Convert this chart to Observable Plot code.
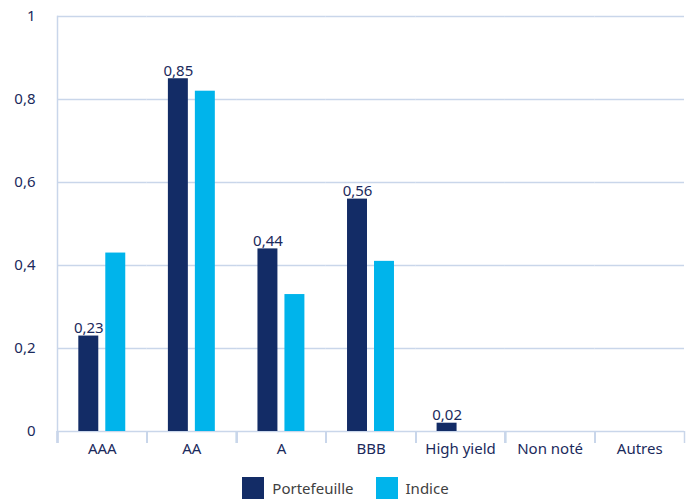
<!DOCTYPE html>
<html>
<head>
<meta charset="utf-8">
<script src="https://cdn.jsdelivr.net/npm/d3@7"></script>
<script src="https://cdn.jsdelivr.net/npm/@observablehq/plot@0.6"></script>
<style>
  body { margin: 0; background: #fff; font-family: "Noto Sans", sans-serif; }
  #chart svg { display: block; }
  .legend { display: flex; justify-content: center; align-items: center; gap: 22px; height: 23px; color: #404040; font-size: 15px; }
  .legend span { display: inline-flex; align-items: center; gap: 8px; }
  .legend i { display: inline-block; width: 22px; height: 22px; }
</style>
</head>
<body>
<div id="chart"></div>
<div class="legend" id="legend"></div>
<script>
// Rating buckets and the two series compared in each
const categories = ["AAA", "AA", "A", "BBB", "High yield", "Non noté", "Autres"];
const series = ["Portefeuille", "Indice"];
const portefeuille = [0.23, 0.85, 0.44, 0.56, 0.02, 0, 0];
const indice = [0.43, 0.82, 0.33, 0.41, 0, 0, 0];
const yTicks = [0, 0.2, 0.4, 0.6, 0.8, 1];
const colors = ["#132c66", "#00b4eb"];

const navy = "#1b2a5c";
const gridColor = "#c9d6ea";
const frFormat = (v) => String(v).replace(".", ",");

const rows = categories.flatMap((c, i) => [
  {category: c, series: series[0], value: portefeuille[i]},
  {category: c, series: series[1], value: indice[i]}
]);
const labelled = rows.filter((d) => d.series === series[0] && d.value > 0);

const width = 691, marginLeft = 57, marginRight = 7;
const halfStep = (width - marginLeft - marginRight) / categories.length / 2;

const chart = Plot.plot({
  width,
  height: 476,
  marginLeft,
  marginRight,
  marginTop: 16,
  marginBottom: 45,
  style: {fontFamily: "'Noto Sans', sans-serif", fontSize: "15px", color: navy, background: "#fff"},
  fx: {domain: categories, padding: 0, round: false, label: null},
  x: {domain: series, paddingInner: 0.26, paddingOuter: 0.79, round: false, axis: null},
  y: {domain: [0, 1], label: null},
  color: {domain: series, range: colors},
  marks: [
    Plot.gridY(yTicks, {stroke: gridColor, strokeOpacity: 1, strokeWidth: 1.5}),
    Plot.frame({anchor: "left", facetAnchor: "left", stroke: gridColor, strokeWidth: 1.5}),
    Plot.axisY(yTicks, {tickSize: 0, tickPadding: 22, tickFormat: frFormat, fill: navy}),
    Plot.axisFx({anchor: "bottom", tickSize: 0, tickPadding: 12, fill: navy}),
    Plot.axisFx(categories, {anchor: "bottom", tickSize: 12, tickFormat: () => "", dx: -halfStep, stroke: gridColor, strokeWidth: 1.5}),
    Plot.axisFx(categories.slice(-1), {anchor: "bottom", tickSize: 12, tickFormat: () => "", dx: halfStep, stroke: gridColor, strokeWidth: 1.5}),
    Plot.barY(rows, {fx: "category", x: "series", y: "value", fill: "series"}),
    Plot.text(labelled, {
      fx: "category", x: "series", y: "value",
      text: (d) => frFormat(d.value),
      lineAnchor: "bottom", dy: -3, fill: navy, fontSize: 15
    })
  ]
});
document.getElementById("chart").append(chart);

const legend = document.getElementById("legend");
series.forEach((s, i) => {
  const item = document.createElement("span");
  const swatch = document.createElement("i");
  swatch.style.background = colors[i];
  item.append(swatch, document.createTextNode(s));
  legend.append(item);
});
</script>
</body>
</html>
